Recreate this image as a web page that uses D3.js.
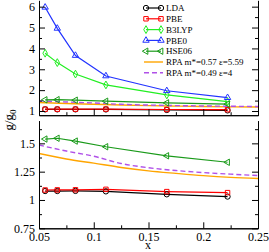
<!DOCTYPE html>
<html>
<head>
<meta charset="utf-8">
<script src="https://cdn.jsdelivr.net/npm/d3@7"></script>
<style>
  body { margin: 0; background: #fff; }
  svg text { font-family: "Liberation Serif", "DejaVu Serif", serif; }
</style>
</head>
<body>
<div id="chart"></div>
<script>
// values
const xs = [0.0556, 0.0667, 0.0833, 0.1111, 0.1667, 0.2222];
const lda = [1.079, 1.079, 1.080, 1.076, 1.050, 1.030];
const pbe = [1.088, 1.089, 1.090, 1.094, 1.074, 1.065];
const b3lyp = [3.77, 3.32, 2.77, 2.25, 1.77, 1.45];
const pbe0 = [5.97, 4.96, 3.66, 2.68, 1.97, 1.64];
const hse06 = [1.538, 1.545, 1.52, 1.47, 1.39, 1.333];

const rpaX = [0.05, 0.075, 0.1, 0.125, 0.15, 0.175, 0.2, 0.225, 0.25];
const rpa1 = [1.41, 1.362, 1.325, 1.287, 1.257, 1.235, 1.215, 1.200, 1.190];
const rpa2 = [1.485, 1.432, 1.386, 1.322, 1.285, 1.260, 1.242, 1.228, 1.216];

const xMajor = [0.05, 0.1, 0.15, 0.2, 0.25];
const xMinor = [0.075, 0.125, 0.175, 0.225];
const topMajor = [1, 2, 3, 4, 5, 6];
const topMinor = [1.5, 2.5, 3.5, 4.5, 5.5];
const botMajor = [0.75, 1, 1.25, 1.5];
const botMinor = [0.875, 1.125, 1.375, 1.625];

const series = [
  { name: "LDA", values: lda, color: "#000000", symbol: "circle" },
  { name: "PBE", values: pbe, color: "#ff0000", symbol: "square" },
  { name: "B3LYP", values: b3lyp, color: "#22ee22", symbol: "diamond" },
  { name: "PBE0", values: pbe0, color: "#2233ff", symbol: "triUp" },
  { name: "HSE06", values: hse06, color: "#1a9a1a", symbol: "triLeft" }
];
const curves = [
  { name: "RPA m*=0.57 ε=5.59", values: rpa1, color: "#ffa500", dash: null },
  { name: "RPA m*=0.49 ε=4", values: rpa2, color: "#b050e8", dash: "5,3" }
];

const W = 269, H = 252;
const LEFT = 39, RIGHT = 258;

const svg = d3.select("#chart").append("svg")
    .attr("width", W)
    .attr("height", H);

const x = d3.scaleLinear().domain([0.05, 0.25]).range([LEFT, RIGHT]);

const panels = [
  { y: d3.scaleLinear().domain([0.8, 6.3]).range([115.2, 0.4]),
    major: topMajor, minor: topMinor, fmt: d3.format("d"), xLabels: false, id: "top",
    show: ["LDA", "PBE", "B3LYP", "PBE0", "HSE06"] },
  { y: d3.scaleLinear().domain([0.75, 1.7]).range([228.3, 120.7]),
    major: botMajor, minor: botMinor, fmt: d => String(d), xLabels: true, id: "bot",
    show: ["LDA", "PBE", "HSE06"] }
];

const markerPath = (type, size) => {
  if (type === "circle") return d3.symbol(d3.symbolCircle, size)();
  if (type === "square") return d3.symbol(d3.symbolSquare, size * 0.9)();
  if (type === "diamond") return d3.symbol(d3.symbolDiamond, size * 0.8)();
  return d3.symbol(d3.symbolTriangle, size * 0.8)();
};

const drawMarker = (g, s, cx, cy) => {
  g.append("path")
      .attr("d", markerPath(s.symbol, 22))
      .attr("transform", `translate(${cx},${cy})` + (s.symbol === "triLeft" ? " rotate(-90)" : ""))
      .attr("fill", "none")
      .attr("stroke", s.color)
      .attr("stroke-width", 1);
};

panels.forEach(p => {
  const y = p.y;
  const [y0, y1] = y.range();

  svg.append("clipPath").attr("id", "clip-" + p.id)
    .append("rect")
      .attr("x", LEFT).attr("y", y1)
      .attr("width", RIGHT - LEFT).attr("height", y0 - y1);

  const plot = svg.append("g");
  const lines = plot.append("g").attr("clip-path", `url(#clip-${p.id})`);

  const curveLine = d3.line()
      .x((d, i) => x(rpaX[i]))
      .y(d => y(d))
      .curve(d3.curveMonotoneX);

  curves.forEach(c => {
    lines.append("path")
        .attr("d", curveLine(c.values))
        .attr("fill", "none")
        .attr("stroke", c.color)
        .attr("stroke-width", 1.4)
        .attr("stroke-dasharray", c.dash);
  });

  const line = d3.line()
      .x((d, i) => x(xs[i]))
      .y(d => y(d));

  series.filter(s => p.show.includes(s.name)).forEach(s => {
    lines.append("path")
        .attr("d", line(s.values))
        .attr("fill", "none")
        .attr("stroke", s.color)
        .attr("stroke-width", 1.2);
    const mg = plot.append("g");
    s.values.forEach((v, i) => drawMarker(mg, s, x(xs[i]), y(v)));
  });

  // axes
  const axisStyle = g => {
    g.selectAll("path, line").attr("stroke", "#000").attr("stroke-width", 1);
    g.selectAll("text").attr("font-size", 12).attr("fill", "#000")
        .attr("font-family", "Liberation Serif");
  };

  svg.append("g")
      .attr("transform", `translate(${LEFT},0)`)
      .call(d3.axisLeft(y).tickValues(p.major).tickSize(-6).tickSizeOuter(0)
          .tickPadding(4).tickFormat(p.fmt))
      .call(axisStyle);
  svg.append("g")
      .attr("transform", `translate(${LEFT},0)`)
      .call(d3.axisLeft(y).tickValues(p.minor).tickSize(-3).tickSizeOuter(0).tickFormat(""))
      .call(axisStyle);

  svg.append("g")
      .attr("transform", `translate(${RIGHT},0)`)
      .call(d3.axisRight(y).tickValues(p.major).tickSize(-6).tickSizeOuter(0).tickFormat(""))
      .call(axisStyle);
  svg.append("g")
      .attr("transform", `translate(${RIGHT},0)`)
      .call(d3.axisRight(y).tickValues(p.minor).tickSize(-3).tickSizeOuter(0).tickFormat(""))
      .call(axisStyle);

  svg.append("g")
      .attr("transform", `translate(0,${y0})`)
      .call(d3.axisBottom(x).tickValues(xMajor).tickSize(-6).tickSizeOuter(0)
          .tickPadding(4).tickFormat(p.xLabels ? (d => String(d)) : ""))
      .call(axisStyle);
  svg.append("g")
      .attr("transform", `translate(0,${y0})`)
      .call(d3.axisBottom(x).tickValues(xMinor).tickSize(-3).tickSizeOuter(0).tickFormat(""))
      .call(axisStyle);
});

// legend
const legend = svg.append("g");
const LX0 = 146, LX1 = 161, LT = 166, LY = 8, LSTEP = 10.8;
series.forEach((s, i) => {
  const ly = LY + i * LSTEP;
  legend.append("line")
      .attr("x1", LX0).attr("x2", LX1).attr("y1", ly).attr("y2", ly)
      .attr("stroke", s.color).attr("stroke-width", 1.2);
  drawMarker(legend, s, LX0, ly);
  drawMarker(legend, s, LX1, ly);
  legend.append("text")
      .attr("x", LT).attr("y", ly).attr("dy", "0.35em")
      .attr("font-size", 9).text(s.name);
});
curves.forEach((c, j) => {
  const ly = LY + (series.length + j) * LSTEP;
  legend.append("line")
      .attr("x1", LX0 - 2).attr("x2", LX1 + 2).attr("y1", ly).attr("y2", ly)
      .attr("stroke", c.color).attr("stroke-width", 1.4)
      .attr("stroke-dasharray", c.dash);
  legend.append("text")
      .attr("x", LT).attr("y", ly).attr("dy", "0.35em")
      .attr("font-size", 9).text(c.name);
});

// axis titles
svg.append("text")
    .attr("x", 148).attr("y", 249)
    .attr("text-anchor", "middle")
    .attr("font-size", 12)
    .text("x");

const yl = svg.append("text")
    .attr("transform", "translate(13,120) rotate(-90)")
    .attr("text-anchor", "middle")
    .attr("font-size", 13);
yl.append("tspan").text("g/g");
yl.append("tspan").attr("font-size", 9).attr("dy", 3).text("0");
</script>
</body>
</html>
